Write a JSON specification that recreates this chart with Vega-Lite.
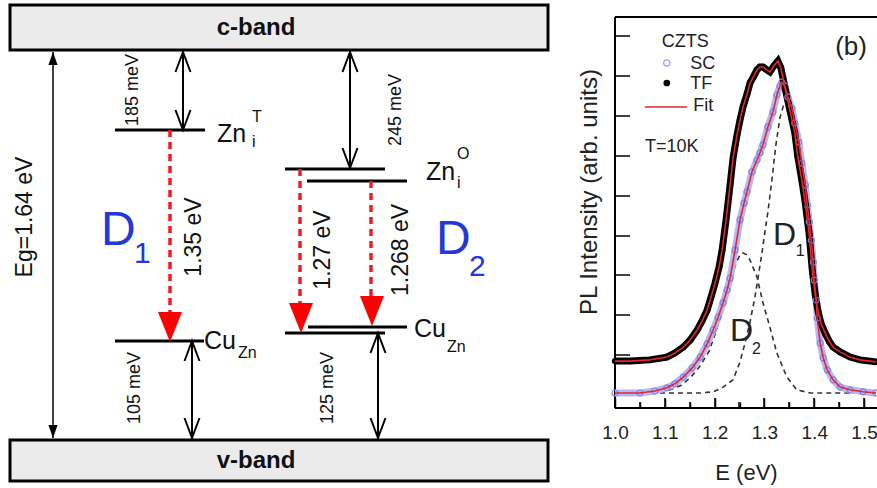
{
  "$schema": "https://vega.github.io/schema/vega-lite/v6.json",
  "width": 262,
  "height": 391,
  "autosize": "none",
  "padding": {"left": 615, "top": 17, "right": 0, "bottom": 80},
  "background": "white",
  "config": {"view": {"stroke": null}, "font": "Liberation Sans", "text": {"font": "Liberation Sans"}},
  "datasets": {
    "bands": [
      {"band": "c-band", "x1": 10, "x2": 548, "y1": 5, "y2": 50},
      {"band": "v-band", "x1": 10, "x2": 548, "y1": 440, "y2": 481}
    ],
    "levels": [
      {"level": "Zn_i^T", "x1": 115, "x2": 205, "y": 130},
      {"level": "Cu_Zn (D1)", "x1": 115, "x2": 204, "y": 341},
      {"level": "Zn_i^O a", "x1": 285, "x2": 385, "y": 169},
      {"level": "Zn_i^O b", "x1": 307, "x2": 407, "y": 181},
      {"level": "Cu_Zn (D2) a", "x1": 308, "x2": 407, "y": 327},
      {"level": "Cu_Zn (D2) b", "x1": 285, "x2": 385, "y": 333}
    ],
    "arrows": [
      {"kind": "eg", "x": 53, "y1": 52, "y2": 438},
      {"kind": "gap", "x": 183, "y1": 52, "y2": 130},
      {"kind": "gap", "x": 192, "y1": 341, "y2": 438},
      {"kind": "gap", "x": 350, "y1": 52, "y2": 168},
      {"kind": "gap", "x": 378, "y1": 333, "y2": 438}
    ],
    "transitions": [
      {"name": "1.35 eV", "x": 170, "y1": 130, "y2": 330},
      {"name": "1.27 eV", "x": 300, "y1": 169, "y2": 322},
      {"name": "1.268 eV", "x": 371, "y1": 181, "y2": 315}
    ],
    "heads": [
      {"kind": "red", "dir": "down", "x": 170, "y": 342},
      {"kind": "red", "dir": "down", "x": 301, "y": 333},
      {"kind": "red", "dir": "down", "x": 372, "y": 326},
      {"kind": "eg", "dir": "up", "x": 53, "y": 52},
      {"kind": "eg", "dir": "down", "x": 53, "y": 438},
      {"kind": "gap", "dir": "up", "x": 183, "y": 52},
      {"kind": "gap", "dir": "down", "x": 183, "y": 130},
      {"kind": "gap", "dir": "up", "x": 192, "y": 341},
      {"kind": "gap", "dir": "down", "x": 192, "y": 438},
      {"kind": "gap", "dir": "up", "x": 350, "y": 52},
      {"kind": "gap", "dir": "down", "x": 350, "y": 168},
      {"kind": "gap", "dir": "up", "x": 378, "y": 333},
      {"kind": "gap", "dir": "down", "x": 378, "y": 438}
    ],
    "panelEdgesH": [
      {"edge": "top", "x1": 615, "x2": 877, "y": 17},
      {"edge": "bottom", "x1": 615, "x2": 877, "y": 408}
    ],
    "panelEdgesV": [
      {"edge": "left", "x": 615, "y1": 17, "y2": 408}
    ],
    "yTicks": [
      {"tick": 0, "x1": 615, "x2": 630, "y": 395}, {"tick": 1, "x1": 615, "x2": 630, "y": 355},
      {"tick": 2, "x1": 615, "x2": 630, "y": 315}, {"tick": 3, "x1": 615, "x2": 630, "y": 275},
      {"tick": 4, "x1": 615, "x2": 630, "y": 236}, {"tick": 5, "x1": 615, "x2": 630, "y": 196},
      {"tick": 6, "x1": 615, "x2": 630, "y": 156}, {"tick": 7, "x1": 615, "x2": 630, "y": 116},
      {"tick": 8, "x1": 615, "x2": 630, "y": 76}, {"tick": 9, "x1": 615, "x2": 630, "y": 36}
    ],
    "xTicks": [
      {"E": "1.0", "x": 615, "y1": 398, "y2": 408}, {"E": "1.05", "x": 640, "y1": 402, "y2": 408},
      {"E": "1.1", "x": 665, "y1": 398, "y2": 408}, {"E": "1.15", "x": 690, "y1": 402, "y2": 408},
      {"E": "1.2", "x": 715, "y1": 398, "y2": 408}, {"E": "1.25", "x": 739, "y1": 402, "y2": 408},
      {"E": "1.3", "x": 764, "y1": 398, "y2": 408}, {"E": "1.35", "x": 789, "y1": 402, "y2": 408},
      {"E": "1.4", "x": 814, "y1": 398, "y2": 408}, {"E": "1.45", "x": 839, "y1": 402, "y2": 408},
      {"E": "1.5", "x": 864, "y1": 398, "y2": 408}
    ],
    "labels": [
      {"text": "c-band", "x": 256, "y": 28, "role": "band"},
      {"text": "v-band", "x": 256, "y": 461, "role": "band"},
      {"text": "Eg=1.64 eV", "x": 25, "y": 217, "role": "energy"},
      {"text": "1.35 eV", "x": 194, "y": 237, "role": "energy"},
      {"text": "1.27 eV", "x": 323, "y": 250, "role": "energy"},
      {"text": "1.268 eV", "x": 401, "y": 250, "role": "energy"},
      {"text": "185 meV", "x": 133, "y": 90, "role": "gap"},
      {"text": "105 meV", "x": 135, "y": 388, "role": "gap"},
      {"text": "245 meV", "x": 396, "y": 110, "role": "gap"},
      {"text": "125 meV", "x": 328, "y": 388, "role": "gap"},
      {"text": "Zn", "x": 217, "y": 134, "role": "level"},
      {"text": "Cu", "x": 204, "y": 341, "role": "level"},
      {"text": "Zn", "x": 426, "y": 172, "role": "level"},
      {"text": "Cu", "x": 414, "y": 329, "role": "level"},
      {"text": "T", "x": 252, "y": 117, "role": "script"},
      {"text": "i", "x": 252, "y": 142, "role": "script"},
      {"text": "Zn", "x": 238, "y": 353, "role": "script"},
      {"text": "O", "x": 457, "y": 154, "role": "script"},
      {"text": "i", "x": 457, "y": 183, "role": "script"},
      {"text": "Zn", "x": 447, "y": 347, "role": "script"},
      {"text": "D", "x": 101, "y": 231, "role": "D"},
      {"text": "D", "x": 436, "y": 240, "role": "D"},
      {"text": "1", "x": 134, "y": 254, "role": "Dsub"},
      {"text": "2", "x": 469, "y": 267, "role": "Dsub"},
      {"text": "PL Intensity (arb. units)", "x": 590, "y": 192, "role": "ytitle"}
    ],
    "spectra": [
      {"series": "TF", "E": 1.000, "I": 0.85}, {"series": "TF", "E": 1.030, "I": 0.85}, {"series": "TF", "E": 1.070, "I": 0.88},
      {"series": "TF", "E": 1.104, "I": 0.95}, {"series": "TF", "E": 1.120, "I": 1.05}, {"series": "TF", "E": 1.137, "I": 1.20},
      {"series": "TF", "E": 1.151, "I": 1.38}, {"series": "TF", "E": 1.165, "I": 1.63}, {"series": "TF", "E": 1.175, "I": 1.86},
      {"series": "TF", "E": 1.185, "I": 2.13}, {"series": "TF", "E": 1.193, "I": 2.46}, {"series": "TF", "E": 1.201, "I": 2.81},
      {"series": "TF", "E": 1.209, "I": 3.21}, {"series": "TF", "E": 1.215, "I": 3.63}, {"series": "TF", "E": 1.223, "I": 4.39},
      {"series": "TF", "E": 1.231, "I": 5.26}, {"series": "TF", "E": 1.237, "I": 5.94}, {"series": "TF", "E": 1.245, "I": 6.52},
      {"series": "TF", "E": 1.251, "I": 6.89}, {"series": "TF", "E": 1.257, "I": 7.22}, {"series": "TF", "E": 1.265, "I": 7.54},
      {"series": "TF", "E": 1.271, "I": 7.82}, {"series": "TF", "E": 1.279, "I": 8.00}, {"series": "TF", "E": 1.285, "I": 8.15},
      {"series": "TF", "E": 1.291, "I": 8.22}, {"series": "TF", "E": 1.297, "I": 8.22}, {"series": "TF", "E": 1.305, "I": 8.15},
      {"series": "TF", "E": 1.311, "I": 8.10}, {"series": "TF", "E": 1.319, "I": 8.25}, {"series": "TF", "E": 1.327, "I": 8.37},
      {"series": "TF", "E": 1.333, "I": 8.20}, {"series": "TF", "E": 1.341, "I": 7.72}, {"series": "TF", "E": 1.351, "I": 7.14},
      {"series": "TF", "E": 1.361, "I": 6.57}, {"series": "TF", "E": 1.367, "I": 5.97}, {"series": "TF", "E": 1.375, "I": 5.39},
      {"series": "TF", "E": 1.382, "I": 4.81}, {"series": "TF", "E": 1.390, "I": 4.01}, {"series": "TF", "E": 1.396, "I": 3.13},
      {"series": "TF", "E": 1.402, "I": 2.51}, {"series": "TF", "E": 1.408, "I": 2.08}, {"series": "TF", "E": 1.414, "I": 1.78},
      {"series": "TF", "E": 1.422, "I": 1.55}, {"series": "TF", "E": 1.430, "I": 1.35}, {"series": "TF", "E": 1.438, "I": 1.20},
      {"series": "TF", "E": 1.452, "I": 1.08}, {"series": "TF", "E": 1.472, "I": 0.95}, {"series": "TF", "E": 1.492, "I": 0.88},
      {"series": "TF", "E": 1.524, "I": 0.83},
      {"series": "SC", "E": 1.000, "I": 0.05}, {"series": "SC", "E": 1.050, "I": 0.05}, {"series": "SC", "E": 1.080, "I": 0.10},
      {"series": "SC", "E": 1.104, "I": 0.18}, {"series": "SC", "E": 1.120, "I": 0.28}, {"series": "SC", "E": 1.137, "I": 0.45},
      {"series": "SC", "E": 1.155, "I": 0.68}, {"series": "SC", "E": 1.171, "I": 0.95}, {"series": "SC", "E": 1.185, "I": 1.28},
      {"series": "SC", "E": 1.197, "I": 1.63}, {"series": "SC", "E": 1.207, "I": 1.95}, {"series": "SC", "E": 1.217, "I": 2.31},
      {"series": "SC", "E": 1.225, "I": 2.63}, {"series": "SC", "E": 1.231, "I": 2.93}, {"series": "SC", "E": 1.241, "I": 3.63},
      {"series": "SC", "E": 1.251, "I": 4.39}, {"series": "SC", "E": 1.259, "I": 4.81}, {"series": "SC", "E": 1.265, "I": 5.09},
      {"series": "SC", "E": 1.275, "I": 5.59}, {"series": "SC", "E": 1.285, "I": 5.89}, {"series": "SC", "E": 1.291, "I": 6.07},
      {"series": "SC", "E": 1.297, "I": 6.27}, {"series": "SC", "E": 1.307, "I": 6.72}, {"series": "SC", "E": 1.317, "I": 7.09},
      {"series": "SC", "E": 1.325, "I": 7.52}, {"series": "SC", "E": 1.331, "I": 7.74}, {"series": "SC", "E": 1.335, "I": 7.84},
      {"series": "SC", "E": 1.341, "I": 7.74}, {"series": "SC", "E": 1.347, "I": 7.47}, {"series": "SC", "E": 1.355, "I": 7.19},
      {"series": "SC", "E": 1.361, "I": 6.82}, {"series": "SC", "E": 1.369, "I": 6.34}, {"series": "SC", "E": 1.375, "I": 5.81},
      {"series": "SC", "E": 1.382, "I": 5.26}, {"series": "SC", "E": 1.386, "I": 4.76}, {"series": "SC", "E": 1.390, "I": 4.34},
      {"series": "SC", "E": 1.394, "I": 3.88}, {"series": "SC", "E": 1.398, "I": 3.33}, {"series": "SC", "E": 1.400, "I": 2.88},
      {"series": "SC", "E": 1.404, "I": 2.38}, {"series": "SC", "E": 1.406, "I": 1.93}, {"series": "SC", "E": 1.412, "I": 1.30},
      {"series": "SC", "E": 1.418, "I": 0.93}, {"series": "SC", "E": 1.426, "I": 0.63}, {"series": "SC", "E": 1.438, "I": 0.38},
      {"series": "SC", "E": 1.452, "I": 0.20}, {"series": "SC", "E": 1.472, "I": 0.13}, {"series": "SC", "E": 1.498, "I": 0.08},
      {"series": "SC", "E": 1.524, "I": 0.05}
    ],
    "components": [
      {"comp": "D1", "E": 1.000, "I": 0.05}, {"comp": "D1", "E": 1.171, "I": 0.05}, {"comp": "D1", "E": 1.197, "I": 0.08},
      {"comp": "D1", "E": 1.215, "I": 0.18}, {"comp": "D1", "E": 1.237, "I": 0.38}, {"comp": "D1", "E": 1.251, "I": 0.83},
      {"comp": "D1", "E": 1.261, "I": 1.30}, {"comp": "D1", "E": 1.271, "I": 1.83}, {"comp": "D1", "E": 1.281, "I": 2.46},
      {"comp": "D1", "E": 1.289, "I": 3.08}, {"comp": "D1", "E": 1.295, "I": 3.56}, {"comp": "D1", "E": 1.301, "I": 4.09},
      {"comp": "D1", "E": 1.307, "I": 4.59}, {"comp": "D1", "E": 1.315, "I": 5.39}, {"comp": "D1", "E": 1.323, "I": 6.27},
      {"comp": "D1", "E": 1.331, "I": 6.94}, {"comp": "D1", "E": 1.339, "I": 7.29}, {"comp": "D1", "E": 1.345, "I": 7.39},
      {"comp": "D1", "E": 1.351, "I": 7.27}, {"comp": "D1", "E": 1.361, "I": 6.77}, {"comp": "D1", "E": 1.369, "I": 6.29},
      {"comp": "D1", "E": 1.375, "I": 5.76}, {"comp": "D1", "E": 1.382, "I": 5.21}, {"comp": "D1", "E": 1.390, "I": 4.29},
      {"comp": "D1", "E": 1.398, "I": 3.28}, {"comp": "D1", "E": 1.404, "I": 2.33}, {"comp": "D1", "E": 1.412, "I": 1.25},
      {"comp": "D1", "E": 1.418, "I": 0.88}, {"comp": "D1", "E": 1.426, "I": 0.58}, {"comp": "D1", "E": 1.438, "I": 0.33},
      {"comp": "D1", "E": 1.452, "I": 0.18}, {"comp": "D1", "E": 1.472, "I": 0.10}, {"comp": "D1", "E": 1.524, "I": 0.05},
      {"comp": "D2", "E": 1.000, "I": 0.05}, {"comp": "D2", "E": 1.070, "I": 0.05}, {"comp": "D2", "E": 1.104, "I": 0.10},
      {"comp": "D2", "E": 1.131, "I": 0.23}, {"comp": "D2", "E": 1.151, "I": 0.43}, {"comp": "D2", "E": 1.171, "I": 0.73},
      {"comp": "D2", "E": 1.189, "I": 1.10}, {"comp": "D2", "E": 1.203, "I": 1.60}, {"comp": "D2", "E": 1.217, "I": 2.18},
      {"comp": "D2", "E": 1.231, "I": 2.78}, {"comp": "D2", "E": 1.243, "I": 3.31}, {"comp": "D2", "E": 1.251, "I": 3.51},
      {"comp": "D2", "E": 1.257, "I": 3.56}, {"comp": "D2", "E": 1.265, "I": 3.51}, {"comp": "D2", "E": 1.271, "I": 3.38},
      {"comp": "D2", "E": 1.285, "I": 2.96}, {"comp": "D2", "E": 1.297, "I": 2.31}, {"comp": "D2", "E": 1.311, "I": 1.70},
      {"comp": "D2", "E": 1.325, "I": 1.05}, {"comp": "D2", "E": 1.345, "I": 0.45}, {"comp": "D2", "E": 1.365, "I": 0.13},
      {"comp": "D2", "E": 1.392, "I": 0.05}, {"comp": "D2", "E": 1.524, "I": 0.05}
    ],
    "plotText": [
      {"text": "CZTS", "E": 1.141, "I": 8.85, "role": "legendTitle"},
      {"text": "SC", "E": 1.151, "I": 8.30, "role": "legend"},
      {"text": "TF", "E": 1.151, "I": 7.79, "role": "legend"},
      {"text": "Fit", "E": 1.157, "I": 7.24, "role": "legend"},
      {"text": "T=10K", "E": 1.060, "I": 6.22, "role": "legend"},
      {"text": "(b)", "E": 1.474, "I": 8.72, "role": "panel"},
      {"text": "D", "E": 1.317, "I": 4.01, "role": "D"},
      {"text": "1", "E": 1.363, "I": 3.61, "role": "Dsub"},
      {"text": "D", "E": 1.231, "I": 1.60, "role": "D"},
      {"text": "2", "E": 1.275, "I": 1.16, "role": "Dsub"}
    ],
    "legendSymbols": [
      {"series": "SC", "E": 1.104, "I": 8.32},
      {"series": "TF", "E": 1.104, "I": 7.82}
    ],
    "legendLine": [
      {"series": "Fit", "E": 1.060, "E2": 1.145, "I": 7.22}
    ]
  },
  "layer": [
    {
      "resolve": {"scale": {"shape": "independent"}},
      "layer": [
        {
          "data": {"name": "bands"},
          "mark": {"type": "rect", "fill": "#ebebeb", "stroke": "black", "strokeWidth": 3},
          "encoding": {
            "x": {"field": "x1", "type": "quantitative", "scale": {"domain": [0, 877], "range": [-615, 262], "nice": false, "zero": false}, "axis": null},
            "x2": {"field": "x2"},
            "y": {"field": "y1", "type": "quantitative", "scale": {"domain": [0, 488], "range": [-17, 471], "nice": false, "zero": false}, "axis": null},
            "y2": {"field": "y2"}
          }
        },
        {
          "data": {"name": "panelEdgesH"},
          "mark": {"type": "rule", "color": "black", "strokeWidth": 2},
          "encoding": {
            "x": {"field": "x1", "type": "quantitative", "axis": null},
            "x2": {"field": "x2"},
            "y": {"field": "y", "type": "quantitative", "axis": null}
          }
        },
        {
          "data": {"name": "panelEdgesV"},
          "mark": {"type": "rule", "color": "black", "strokeWidth": 2},
          "encoding": {
            "x": {"field": "x", "type": "quantitative", "axis": null},
            "y": {"field": "y1", "type": "quantitative", "axis": null},
            "y2": {"field": "y2"}
          }
        },
        {
          "data": {"name": "yTicks"},
          "mark": {"type": "rule", "color": "black", "strokeWidth": 1.5},
          "encoding": {
            "x": {"field": "x1", "type": "quantitative", "axis": null},
            "x2": {"field": "x2"},
            "y": {"field": "y", "type": "quantitative", "axis": null}
          }
        },
        {
          "data": {"name": "xTicks"},
          "mark": {"type": "rule", "color": "black", "strokeWidth": 1.5},
          "encoding": {
            "x": {"field": "x", "type": "quantitative", "axis": null},
            "y": {"field": "y1", "type": "quantitative", "axis": null},
            "y2": {"field": "y2"}
          }
        },
        {
          "data": {"name": "levels"},
          "mark": {"type": "rule", "color": "black", "strokeWidth": 3},
          "encoding": {
            "x": {"field": "x1", "type": "quantitative", "axis": null},
            "x2": {"field": "x2"},
            "y": {"field": "y", "type": "quantitative", "axis": null}
          }
        },
        {
          "data": {"name": "arrows"},
          "transform": [{"filter": "datum.kind === 'eg'"}],
          "mark": {"type": "rule", "color": "black", "strokeWidth": 1.5},
          "encoding": {
            "x": {"field": "x", "type": "quantitative", "axis": null},
            "y": {"field": "y1", "type": "quantitative", "axis": null},
            "y2": {"field": "y2"}
          }
        },
        {
          "data": {"name": "arrows"},
          "transform": [{"filter": "datum.kind === 'gap'"}],
          "mark": {"type": "rule", "color": "black", "strokeWidth": 2},
          "encoding": {
            "x": {"field": "x", "type": "quantitative", "axis": null},
            "y": {"field": "y1", "type": "quantitative", "axis": null},
            "y2": {"field": "y2"}
          }
        },
        {
          "data": {"name": "transitions"},
          "mark": {"type": "rule", "color": "#ee1c24", "strokeWidth": 3.5, "strokeDash": [7, 5]},
          "encoding": {
            "x": {"field": "x", "type": "quantitative", "axis": null},
            "y": {"field": "y1", "type": "quantitative", "axis": null},
            "y2": {"field": "y2"}
          }
        },
        {
          "data": {"name": "heads"},
          "transform": [{"filter": "datum.kind === 'red'"}],
          "mark": {"type": "point", "shape": "M0,0L-0.4,-1L0.4,-1Z", "size": 3600, "filled": true, "color": "#ff0000", "opacity": 1, "strokeWidth": 0},
          "encoding": {
            "x": {"field": "x", "type": "quantitative", "axis": null},
            "y": {"field": "y", "type": "quantitative", "axis": null}
          }
        },
        {
          "data": {"name": "heads"},
          "transform": [{"filter": "datum.kind === 'eg'"}],
          "mark": {"type": "point", "size": 676, "filled": true, "color": "black", "opacity": 1, "strokeWidth": 0},
          "encoding": {
            "x": {"field": "x", "type": "quantitative", "axis": null},
            "y": {"field": "y", "type": "quantitative", "axis": null},
            "shape": {"field": "dir", "type": "nominal", "scale": {"domain": ["up", "down"], "range": ["M0,0L-0.35,1L0.35,1Z", "M0,0L-0.35,-1L0.35,-1Z"]}, "legend": null}
          }
        },
        {
          "data": {"name": "heads"},
          "transform": [{"filter": "datum.kind === 'gap'"}],
          "mark": {"type": "point", "size": 1600, "filled": false, "color": "black", "opacity": 1, "strokeWidth": 2},
          "encoding": {
            "x": {"field": "x", "type": "quantitative", "axis": null},
            "y": {"field": "y", "type": "quantitative", "axis": null},
            "shape": {"field": "dir", "type": "nominal", "scale": {"domain": ["up", "down"], "range": ["M-0.375,1L0,0L0.375,1", "M-0.375,-1L0,0L0.375,-1"]}, "legend": null}
          }
        },
        {
          "data": {"name": "labels"},
          "transform": [{"filter": "datum.role === 'band'"}],
          "mark": {"type": "text", "fontSize": 24, "fontWeight": "bold", "color": "#111", "align": "center", "baseline": "middle"},
          "encoding": {
            "x": {"field": "x", "type": "quantitative", "axis": null},
            "y": {"field": "y", "type": "quantitative", "axis": null},
            "text": {"field": "text"}
          }
        },
        {
          "data": {"name": "labels"},
          "transform": [{"filter": "datum.role === 'energy'"}],
          "mark": {"type": "text", "fontSize": 23, "color": "#111", "align": "center", "baseline": "middle", "angle": 270},
          "encoding": {
            "x": {"field": "x", "type": "quantitative", "axis": null},
            "y": {"field": "y", "type": "quantitative", "axis": null},
            "text": {"field": "text"}
          }
        },
        {
          "data": {"name": "labels"},
          "transform": [{"filter": "datum.role === 'ytitle'"}],
          "mark": {"type": "text", "fontSize": 24, "color": "#222", "align": "center", "baseline": "middle", "angle": 270},
          "encoding": {
            "x": {"field": "x", "type": "quantitative", "axis": null},
            "y": {"field": "y", "type": "quantitative", "axis": null},
            "text": {"field": "text"}
          }
        },
        {
          "data": {"name": "labels"},
          "transform": [{"filter": "datum.role === 'gap'"}],
          "mark": {"type": "text", "fontSize": 18, "color": "#111", "align": "center", "baseline": "middle", "angle": 270},
          "encoding": {
            "x": {"field": "x", "type": "quantitative", "axis": null},
            "y": {"field": "y", "type": "quantitative", "axis": null},
            "text": {"field": "text"}
          }
        },
        {
          "data": {"name": "labels"},
          "transform": [{"filter": "datum.role === 'level'"}],
          "mark": {"type": "text", "fontSize": 25, "color": "#111", "align": "left", "baseline": "middle"},
          "encoding": {
            "x": {"field": "x", "type": "quantitative", "axis": null},
            "y": {"field": "y", "type": "quantitative", "axis": null},
            "text": {"field": "text"}
          }
        },
        {
          "data": {"name": "labels"},
          "transform": [{"filter": "datum.role === 'script'"}],
          "mark": {"type": "text", "fontSize": 16, "color": "#111", "align": "left", "baseline": "middle"},
          "encoding": {
            "x": {"field": "x", "type": "quantitative", "axis": null},
            "y": {"field": "y", "type": "quantitative", "axis": null},
            "text": {"field": "text"}
          }
        },
        {
          "data": {"name": "labels"},
          "transform": [{"filter": "datum.role === 'D'"}],
          "mark": {"type": "text", "fontSize": 48, "color": "#2437d8", "align": "left", "baseline": "middle"},
          "encoding": {
            "x": {"field": "x", "type": "quantitative", "axis": null},
            "y": {"field": "y", "type": "quantitative", "axis": null},
            "text": {"field": "text"}
          }
        },
        {
          "data": {"name": "labels"},
          "transform": [{"filter": "datum.role === 'Dsub'"}],
          "mark": {"type": "text", "fontSize": 30, "color": "#2437d8", "align": "left", "baseline": "middle"},
          "encoding": {
            "x": {"field": "x", "type": "quantitative", "axis": null},
            "y": {"field": "y", "type": "quantitative", "axis": null},
            "text": {"field": "text"}
          }
        }
      ]
    },
    {
      "resolve": {"axis": {"x": "independent"}},
      "layer": [
        {
          "data": {"name": "components"},
          "mark": {"type": "line", "color": "#333333", "strokeWidth": 1.6, "strokeDash": [5, 4]},
          "encoding": {
            "x": {"field": "E", "type": "quantitative",
              "scale": {"domain": [1.0, 1.526], "nice": false, "zero": false},
              "axis": {"orient": "bottom", "values": [1.0, 1.1, 1.2, 1.3, 1.4, 1.5], "format": ".1f", "tickSize": -10, "tickWidth": 1.5, "tickColor": "black",
                "labelFontSize": 19, "labelColor": "#222", "labelPadding": 25, "labelFlush": false, "domain": false, "grid": false,
                "title": "E (eV)", "titleFontSize": 22, "titleFontWeight": "normal", "titleColor": "#222", "titleY": 64, "titleBaseline": "middle"}},
            "y": {"field": "I", "type": "quantitative",
              "scale": {"domain": [-0.326, 9.474], "nice": false, "zero": false},
              "axis": null},
            "detail": {"field": "comp"}
          }
        },
        {
          "data": {"name": "spectra"},
          "transform": [{"filter": "datum.series === 'SC'"}],
          "mark": {"type": "line", "color": "#b4b8f6", "strokeWidth": 7},
          "encoding": {
            "x": {"field": "E", "type": "quantitative",
              "axis": {"orient": "bottom", "values": [1.05, 1.15, 1.25, 1.35, 1.45], "tickSize": -6, "tickWidth": 1.5, "tickColor": "black", "labels": false,
                "domain": false, "grid": false, "title": null}},
            "y": {"field": "I", "type": "quantitative", "axis": null}
          }
        },
        {
          "data": {"name": "spectra"},
          "transform": [{"filter": "datum.series === 'TF'"}],
          "mark": {"type": "line", "color": "black", "strokeWidth": 7},
          "encoding": {
            "x": {"field": "E", "type": "quantitative", "axis": null},
            "y": {"field": "I", "type": "quantitative", "axis": null}
          }
        },
        {
          "data": {"name": "spectra"},
          "transform": [{"filter": "datum.series === 'SC'"}],
          "mark": {"type": "point", "filled": false, "color": "#7f82ee", "size": 36, "strokeWidth": 1.2, "opacity": 1},
          "encoding": {
            "x": {"field": "E", "type": "quantitative", "axis": null},
            "y": {"field": "I", "type": "quantitative", "axis": null}
          }
        },
        {
          "data": {"name": "spectra"},
          "transform": [{"filter": "datum.series === 'TF'"}],
          "mark": {"type": "point", "filled": true, "color": "black", "size": 40, "opacity": 1},
          "encoding": {
            "x": {"field": "E", "type": "quantitative", "axis": null},
            "y": {"field": "I", "type": "quantitative", "axis": null}
          }
        },
        {
          "data": {"name": "spectra"},
          "mark": {"type": "line", "color": "#e5262b", "strokeWidth": 1.6},
          "encoding": {
            "x": {"field": "E", "type": "quantitative", "axis": null},
            "y": {"field": "I", "type": "quantitative", "axis": null},
            "detail": {"field": "series"}
          }
        },
        {
          "data": {"name": "legendSymbols"},
          "transform": [{"filter": "datum.series === 'SC'"}],
          "mark": {"type": "point", "filled": false, "color": "#9a9cf0", "size": 40, "strokeWidth": 1.3, "opacity": 1},
          "encoding": {
            "x": {"field": "E", "type": "quantitative", "axis": null},
            "y": {"field": "I", "type": "quantitative", "axis": null}
          }
        },
        {
          "data": {"name": "legendSymbols"},
          "transform": [{"filter": "datum.series === 'TF'"}],
          "mark": {"type": "point", "filled": true, "color": "black", "size": 45, "opacity": 1},
          "encoding": {
            "x": {"field": "E", "type": "quantitative", "axis": null},
            "y": {"field": "I", "type": "quantitative", "axis": null}
          }
        },
        {
          "data": {"name": "legendLine"},
          "mark": {"type": "rule", "color": "#e5262b", "strokeWidth": 1.6},
          "encoding": {
            "x": {"field": "E", "type": "quantitative", "axis": null},
            "x2": {"field": "E2"},
            "y": {"field": "I", "type": "quantitative", "axis": null}
          }
        },
        {
          "data": {"name": "plotText"},
          "transform": [{"filter": "datum.role === 'legendTitle'"}],
          "mark": {"type": "text", "fontSize": 18, "color": "#222", "align": "center", "baseline": "middle"},
          "encoding": {
            "x": {"field": "E", "type": "quantitative", "axis": null},
            "y": {"field": "I", "type": "quantitative", "axis": null},
            "text": {"field": "text"}
          }
        },
        {
          "data": {"name": "plotText"},
          "transform": [{"filter": "datum.role === 'legend'"}],
          "mark": {"type": "text", "fontSize": 18, "color": "#222", "align": "left", "baseline": "middle"},
          "encoding": {
            "x": {"field": "E", "type": "quantitative", "axis": null},
            "y": {"field": "I", "type": "quantitative", "axis": null},
            "text": {"field": "text"}
          }
        },
        {
          "data": {"name": "plotText"},
          "transform": [{"filter": "datum.role === 'panel'"}],
          "mark": {"type": "text", "fontSize": 26, "color": "#222", "align": "center", "baseline": "middle"},
          "encoding": {
            "x": {"field": "E", "type": "quantitative", "axis": null},
            "y": {"field": "I", "type": "quantitative", "axis": null},
            "text": {"field": "text"}
          }
        },
        {
          "data": {"name": "plotText"},
          "transform": [{"filter": "datum.role === 'D'"}],
          "mark": {"type": "text", "fontSize": 32, "color": "#222", "align": "left", "baseline": "middle"},
          "encoding": {
            "x": {"field": "E", "type": "quantitative", "axis": null},
            "y": {"field": "I", "type": "quantitative", "axis": null},
            "text": {"field": "text"}
          }
        },
        {
          "data": {"name": "plotText"},
          "transform": [{"filter": "datum.role === 'Dsub'"}],
          "mark": {"type": "text", "fontSize": 16, "color": "#222", "align": "left", "baseline": "middle"},
          "encoding": {
            "x": {"field": "E", "type": "quantitative", "axis": null},
            "y": {"field": "I", "type": "quantitative", "axis": null},
            "text": {"field": "text"}
          }
        }
      ]
    }
  ],
  "resolve": {"scale": {"x": "independent", "y": "independent"}}
}
